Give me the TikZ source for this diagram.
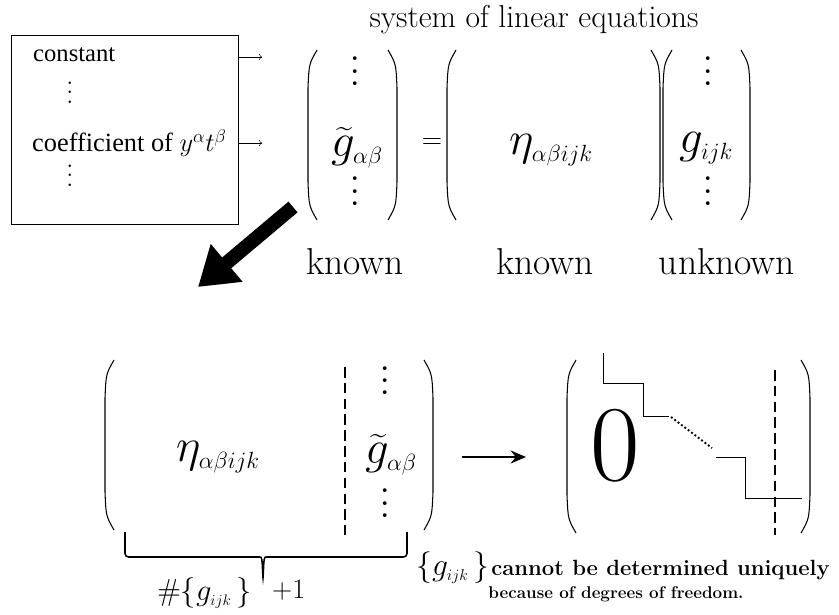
\documentclass[tikz,border=0pt]{standalone}
\usepackage{fix-cm}
\usepackage{fontspec}
\usepackage{amsmath}
\usepackage{graphicx}
\usetikzlibrary{arrows.meta,positioning}
\newfontfamily\boxfont{Liberation Serif}
% round brackets drawn by hand: x, top, bottom
\newcommand\lbow[3]{\draw[paren] (#1+9,#2) .. controls (#1+1,#2+14) .. (#1,#2+38) -- (#1,#3-38) .. controls (#1+1,#3-14) .. (#1+9,#3);}
\newcommand\rbow[3]{\draw[paren] (#1-9,#2) .. controls (#1-1,#2+14) .. (#1,#2+38) -- (#1,#3-38) .. controls (#1-1,#3-14) .. (#1-9,#3);}
\newcommand\sub[1]{_{\scriptscriptstyle #1}}
\newcommand\bigvd{\scalebox{2.6}{$\vdots$}}
\newcommand\smallvd{\scalebox{2.0}{$\vdots$}}

\begin{document}
\begin{tikzpicture}[x=0.03cm,y=-0.03cm]
  \tikzset{paren/.style={line width=0.9pt},
    boxtxt/.style={font=\boxfont\fontsize{21}{23}\selectfont,inner sep=0pt},
    mth/.style={font=\fontsize{40}{42}\selectfont,inner sep=0pt},
    vd/.style={inner sep=0pt,anchor=south,font=\fontsize{15}{17}\selectfont},
    svd/.style={inner sep=0pt,anchor=south,font=\fontsize{11}{13}\selectfont},
    lbl/.style={font=\fontsize{32}{34}\selectfont,inner sep=0pt},
    note/.style={font=\bfseries\fontsize{18.8}{20}\selectfont,inner sep=0pt},
    dashline/.style={line width=2.4pt,dash pattern=on 9pt off 4.5pt},
    stair/.style={line width=0.7pt}}
  \useasboundingbox (0,0) rectangle (839,614);

  % table of coefficients
  \node[draw,line width=0.8pt,minimum width=6.81cm,minimum height=5.67cm,inner sep=0pt] (box) at (124.5,129.5) {};
  \node[boxtxt,anchor=west] (cst) at (33,55) {constant};
  \node[svd] (bd1) at (70,103.5) {\smallvd};
  \node[boxtxt,anchor=west,font=\boxfont\fontsize{22.5}{24}\selectfont] (coef) at (32,143) {coefficient of $y^{\alpha}t^{\beta}$};
  \node[svd] (bd2) at (70,186.5) {\smallvd};
  \coordinate (a1) at (262,57);
  \coordinate (a2) at (262,143);
  \draw[->] (box.east |- a1) -- (a1);
  \draw[->] (box.east |- a2) -- (a2);

  % system of linear equations
  \node[font=\fontsize{27}{29}\selectfont] (title) at (534,20) {system of linear equations};
  \lbow{308}{50}{220} \rbow{397}{50}{220}
  \node[vd] (v1) at (355,85.5) {\bigvd};
  \node[mth] (gt) at (357,148) {$\widetilde{g}\sub{\alpha\beta}$};
  \node[vd] (v2) at (355,205.5) {\bigvd};
  \node[mth,font=\fontsize{24}{26}\selectfont] (eq) at (432,143) {$=$};
  \lbow{447}{50}{220} \rbow{660}{50}{220}
  \node[mth] (eta) at (551,150) {$\eta\sub{\alpha\beta ijk}$};
  \lbow{663}{50}{220} \rbow{750}{50}{220}
  \node[vd] (w1) at (708,85.5) {\bigvd};
  \node[mth] (g) at (706,148) {$g\sub{ijk}$};
  \node[vd] (w2) at (708,205.5) {\bigvd};
  \node[lbl] (k1) at (355,262) {known};
  \node[lbl] (k2) at (545,262) {known};
  \node[lbl] (k3) at (727,262) {unknown};

  \coordinate (ba1) at (293,207);
  \coordinate (ba2) at (198,287);
  \draw[line width=12pt,-{Triangle[length=32pt,width=40pt]}] (ba1) -- (ba2);

  % augmented matrix
  \lbow{105}{360}{530} \rbow{433}{360}{530}
  \node[mth] (eta2) at (218,457) {$\eta\sub{\alpha\beta ijk}$};
  \draw[dashline] (345,367) -- (345,535);
  \node[vd] (u1) at (385,395) {\bigvd};
  \node[mth] (gt2) at (391,455) {$\widetilde{g}\sub{\alpha\beta}$};
  \node[vd] (u2) at (385,517.5) {\bigvd};
  \draw[line width=1.3pt,rounded corners=3pt] (125,532) |- (256,557) .. controls (262,557) .. (263,580)
    .. controls (264,557) .. (270,557) -| (407,532);
  \node[font=\fontsize{26}{28}\selectfont,anchor=east,inner sep=0pt] (num) at (252,593) {$\#\{g\sub{ijk}\,\}$};
  \node[font=\fontsize{24}{26}\selectfont,anchor=west,inner sep=0pt] (plus) at (272,590) {$+1$};

  \coordinate (b1) at (462,457);
  \coordinate (b2) at (526,457);
  \draw[line width=2.4pt,-{Stealth[length=13pt,width=11pt]}] (b1) -- (b2);

  % echelon form
  \lbow{567}{360}{533} \rbow{810}{360}{533}
  \node[font=\fontsize{92}{94}\selectfont,inner sep=0pt] (zero) at (615,446) {0};
  \draw[stair] (603,353) |- (643,383) |- (669,416);
  \draw[line width=1.6pt,dotted] (671,417) -- (712,448);
  \draw[stair] (716,457) -| (745,498) -- (802,498);
  \draw[dashline] (775,370) -- (775,535);

  \node[font=\fontsize{27}{29}\selectfont,anchor=west,inner sep=0pt] (n0) at (416,568) {$\{g\sub{ijk}\,\}$};
  \node[note,anchor=base west] (n1) at ([xshift=1pt]n0.base east) {cannot be determined uniquely};
  \node[note,font=\bfseries\fontsize{14.5}{17}\selectfont] (n2) at (616,594) {because of degrees of freedom.};
\end{tikzpicture}
\end{document}
